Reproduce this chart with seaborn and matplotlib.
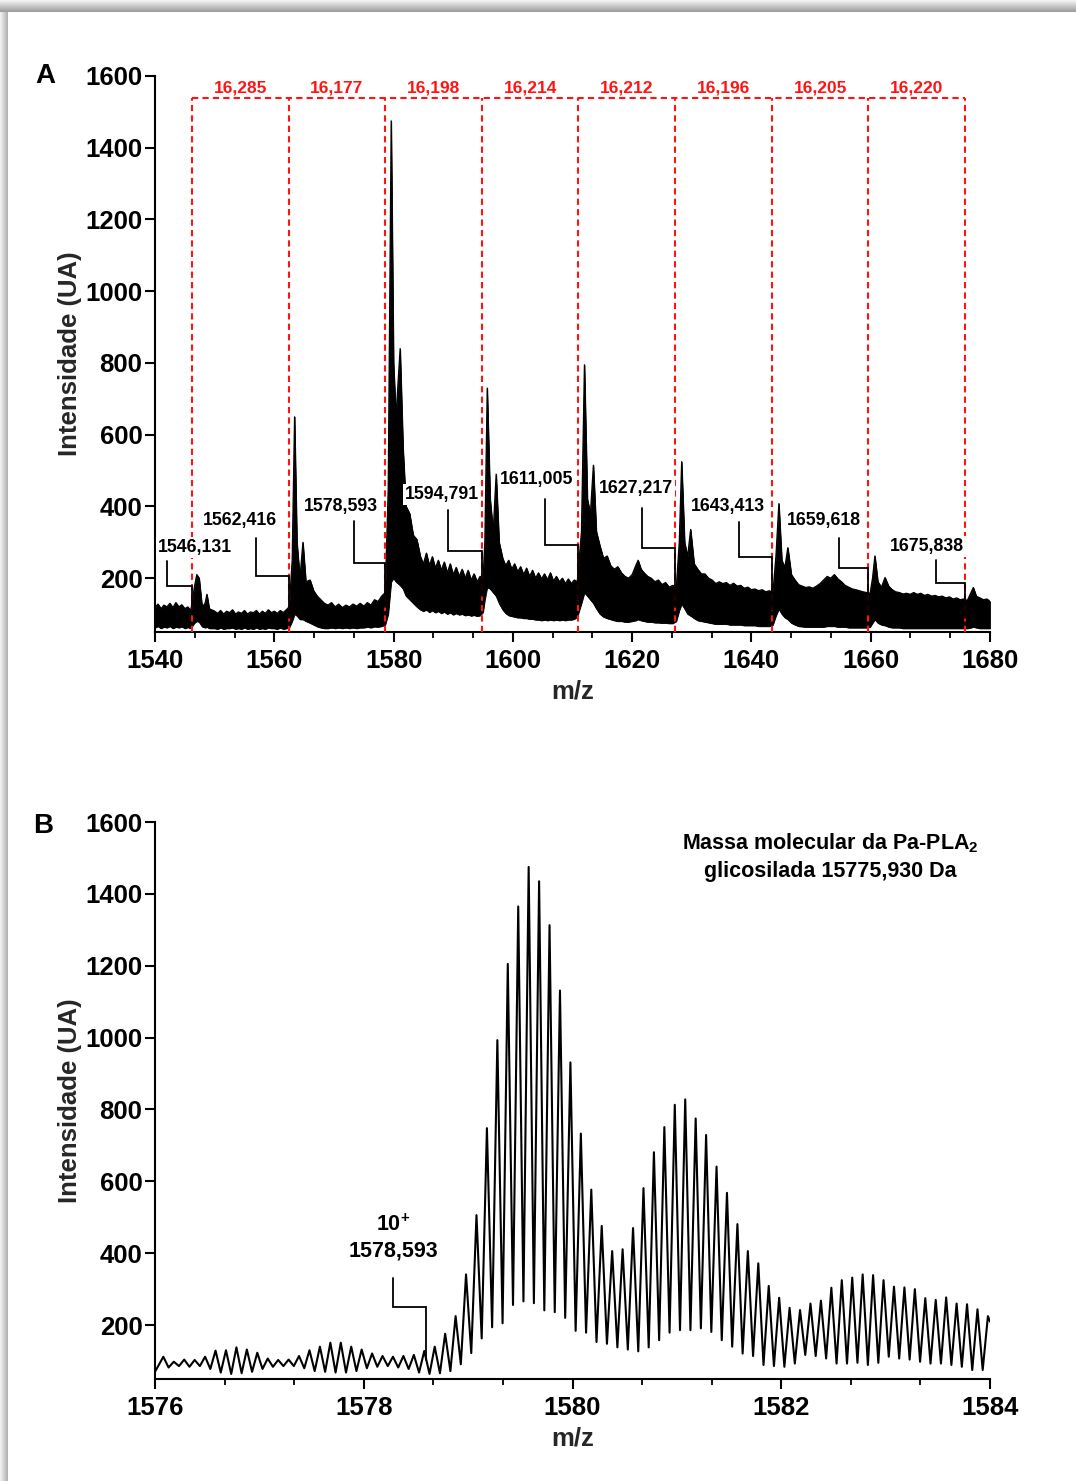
import numpy as np
import pandas as pd
import matplotlib
matplotlib.use("Agg")
import matplotlib.pyplot as plt
import seaborn as sns
from matplotlib.ticker import MultipleLocator, AutoMinorLocator
from matplotlib.patches import Rectangle

# ---------------- Panel A : full ESI spectrum (upper / lower edge of the trace) -------------
a_mz = [1540.0, 1540.5, 1541.0, 1541.5, 1542.0, 1542.5, 1543.0, 1543.5, 1544.0, 1544.5,
        1545.0, 1545.5, 1546.0, 1546.6, 1547.0, 1547.4, 1547.9, 1548.4, 1548.7, 1549.1,
        1550.0, 1550.5, 1551.0, 1551.5, 1552.0, 1552.5, 1553.0, 1553.5, 1554.0, 1554.5,
        1555.0, 1555.5, 1556.0, 1556.5, 1557.0, 1557.5, 1558.0, 1558.5, 1559.0, 1559.5,
        1560.0, 1560.5, 1561.0, 1561.5, 1562.0, 1562.5,
        1563.0, 1563.4, 1563.8, 1564.3, 1564.8, 1565.3, 1566.0, 1566.6, 1567.2, 1567.8,
        1568.4, 1569.0, 1569.6, 1570.2, 1570.8, 1571.4, 1572.0, 1572.6, 1573.2, 1573.8,
        1574.4, 1575.0, 1575.6, 1576.2, 1576.8, 1577.4, 1578.0, 1578.6,
        1579.1, 1579.6, 1580.0, 1580.4, 1581.1, 1581.6, 1582.1, 1582.7, 1583.3, 1583.9,
        1584.5, 1585.0, 1585.5, 1586.0, 1586.5, 1587.0, 1587.5, 1588.0, 1588.5, 1589.0,
        1589.5, 1590.0, 1590.5, 1591.0, 1591.5, 1592.0, 1592.5, 1593.0, 1593.5, 1594.0, 1594.5,
        1595.0, 1595.3, 1595.7, 1596.2, 1596.7, 1597.2, 1597.7, 1598.3, 1598.8, 1599.3,
        1599.8, 1600.3, 1600.8, 1601.3, 1601.8, 1602.3, 1602.8, 1603.3, 1603.8, 1604.3,
        1604.8, 1605.3, 1605.8, 1606.3, 1606.8, 1607.3, 1607.8, 1608.3, 1608.8, 1609.3,
        1609.8, 1610.3, 1610.8,
        1611.5, 1612.0, 1612.5, 1613.0, 1613.5, 1614.0, 1614.6, 1615.2, 1615.8, 1616.4,
        1617.0, 1617.6, 1618.2, 1618.8, 1619.4, 1620.0, 1620.6, 1621.0, 1621.5, 1622.0,
        1622.6, 1623.2, 1623.8, 1624.4, 1625.0, 1625.6, 1626.2, 1626.8, 1627.4,
        1627.9, 1628.3, 1628.8, 1629.3, 1629.8, 1630.4, 1631.0, 1631.6, 1632.2, 1632.8,
        1633.4, 1634.0, 1634.6, 1635.2, 1635.8, 1636.4, 1637.0, 1637.6, 1638.2, 1638.8,
        1639.4, 1640.0, 1640.6, 1641.2, 1641.8, 1642.4, 1643.0, 1643.6,
        1644.1, 1644.6, 1645.1, 1645.6, 1646.1, 1646.7, 1647.3, 1647.9, 1648.5, 1649.1,
        1649.7, 1650.3, 1650.9, 1651.5, 1652.1, 1652.7, 1653.3, 1653.9, 1654.5, 1655.1,
        1655.7, 1656.3, 1656.9, 1657.5, 1658.1, 1658.7, 1659.3, 1659.9,
        1660.3, 1660.7, 1661.2, 1661.8, 1662.4, 1663.0, 1663.6, 1664.2, 1664.8, 1665.4,
        1666.0, 1666.6, 1667.2, 1667.8, 1668.4, 1669.0, 1669.6, 1670.2, 1670.8, 1671.4,
        1672.0, 1672.6, 1673.2, 1673.8, 1674.4, 1675.0, 1675.6, 1676.2, 1676.8, 1677.2,
        1677.7, 1678.3, 1678.9, 1679.5, 1680.0]

a_upper = [118, 128, 115, 125, 120, 130, 118, 132, 120, 126,
           115, 120, 110, 175, 210, 200, 120, 130, 155, 115,
           108, 102, 110, 100, 108, 104, 112, 100, 106, 102,
           110, 100, 106, 104, 110, 100, 108, 102, 112, 104,
           108, 102, 110, 104, 112, 120,
           250, 650, 300, 200, 300, 190, 195, 165, 150, 140,
           130, 125, 132, 120, 128, 118, 125, 120, 128, 122,
           130, 122, 132, 125, 140, 135, 150, 160,
           450, 1475, 800, 650, 840, 560, 400, 380, 320, 308,
           260, 240, 270, 235, 260, 228, 250, 222, 245, 215,
           240, 210, 230, 205, 225, 200, 222, 195, 212, 190, 205,
           200, 300, 730, 420, 330, 490, 300, 255, 235, 250,
           225, 240, 218, 232, 210, 228, 205, 222, 200, 215,
           198, 212, 196, 215, 192, 205, 190, 200, 185, 198,
           185, 195, 190,
           330, 795, 420, 380, 515, 330, 290, 255, 262, 235,
           225, 232, 215, 205, 200, 210, 235, 250, 225, 215,
           205, 200, 190, 195, 182, 188, 175, 180, 175,
           300, 525, 300, 260, 336, 240, 225, 212, 212, 200,
           195, 185, 190, 185, 188, 180, 186, 178, 180, 172,
           175, 168, 170, 165, 168, 162, 165, 160,
           260, 408, 250, 230, 285, 210, 195, 182, 178, 174,
           176, 172, 178, 185, 195, 205, 200, 210, 198, 190,
           180, 175, 170, 168, 165, 162, 160, 158,
           200, 262, 190, 175, 202, 178, 168, 162, 160, 156,
           158, 155, 160, 155, 158, 152, 155, 150, 152, 148,
           150, 145, 148, 142, 145, 140, 142, 138, 160, 174,
           150, 145, 140, 142, 135]

a_lower = [62, 66, 60, 64, 62, 66, 60, 64, 62, 65,
           60, 63, 60, 75, 80, 78, 65, 62, 64, 60,
           60, 58, 62, 58, 60, 60, 62, 58, 60, 58,
           62, 58, 60, 58, 62, 58, 60, 58, 62, 60,
           60, 58, 62, 58, 60, 62,
           80, 100, 95, 85, 85, 80, 75, 70, 65, 62,
           60, 60, 62, 60, 62, 60, 62, 60, 62, 60,
           62, 62, 64, 62, 65, 64, 66, 70,
           100, 190, 200, 190, 180, 170, 150, 140, 130, 120,
           112, 108, 112, 105, 110, 104, 108, 102, 106, 100,
           104, 98, 102, 98, 100, 96, 98, 95, 97, 94, 96,
           105, 140, 175, 170, 160, 150, 130, 112, 102, 96,
           94, 92, 90, 90, 88, 88, 86, 86, 84, 84,
           82, 84, 82, 84, 82, 84, 82, 84, 82, 84,
           84, 86, 92,
           130, 160, 150, 140, 130, 115, 100, 92, 88, 85,
           82, 80, 80, 78, 78, 80, 82, 85, 82, 80,
           78, 78, 76, 76, 75, 75, 74, 74, 80,
           110, 128, 115, 100, 95, 88, 82, 80, 78, 76,
           74, 72, 72, 72, 72, 70, 70, 70, 70, 68,
           68, 68, 68, 66, 66, 66, 66, 70,
           95, 114, 100, 90, 85, 75, 70, 66, 65, 64,
           64, 64, 64, 64, 64, 66, 66, 66, 64, 64,
           64, 62, 62, 62, 62, 62, 62, 64,
           75, 85, 75, 70, 68, 64, 62, 62, 62, 60,
           60, 60, 60, 60, 60, 60, 60, 60, 60, 60,
           60, 60, 60, 60, 60, 60, 60, 60, 62, 64,
           62, 60, 60, 60, 60]

# charge-state series (m/z of the peaks) and deconvoluted masses
charge_mz = [1546.131, 1562.416, 1578.593, 1594.791, 1611.005,
             1627.217, 1643.413, 1659.618, 1675.838]
charge_text = ["1546,131", "1562,416", "1578,593", "1594,791", "1611,005",
               "1627,217", "1643,413", "1659,618", "1675,838"]
mass_text = ["16,285", "16,177", "16,198", "16,214", "16,212", "16,196", "16,205", "16,220"]

# annotation placement (data units)
lab_x = [1546.7, 1554.3, 1571.2, 1588.1, 1603.9, 1620.7, 1636.1, 1652.2, 1669.4]
lab_y = [286, 361, 400, 434, 476, 451, 400, 361, 289]
brk_x = [1542.0, 1556.9, 1573.4, 1589.1, 1605.4, 1621.7, 1637.9, 1654.7, 1670.9]
brk_top = [247, 311, 359, 389, 420, 395, 356, 311, 250]
brk_mid = [178, 206, 242, 275, 292, 284, 258, 228, 186]
brk_low = [105, 90, 120, 150, 140, 120, 110, 100, 90]
box_top = 1540
box_lab_y = 1567

# ---------------- Panel B : zoom on the 10+ ion (isotope peaks / valleys) -------------
b_peak_mz = [1576.08, 1576.18, 1576.28, 1576.38, 1576.48, 1576.58, 1576.68, 1576.78, 1576.88, 1576.98,
             1577.08, 1577.18, 1577.28, 1577.38, 1577.48, 1577.58, 1577.68, 1577.78, 1577.88, 1577.98,
             1578.08, 1578.18, 1578.28, 1578.38, 1578.48, 1578.58, 1578.68, 1578.78, 1578.88, 1578.98,
             1579.08, 1579.18, 1579.28, 1579.38, 1579.48, 1579.58, 1579.68, 1579.78, 1579.88, 1579.98,
             1580.08, 1580.18, 1580.28, 1580.38, 1580.48, 1580.58, 1580.68, 1580.78, 1580.88, 1580.98,
             1581.08, 1581.18, 1581.28, 1581.38, 1581.48, 1581.58, 1581.68, 1581.78, 1581.88, 1581.98,
             1582.08, 1582.18, 1582.28, 1582.38, 1582.48, 1582.58, 1582.68, 1582.78, 1582.88, 1582.98,
             1583.08, 1583.18, 1583.28, 1583.38, 1583.48, 1583.58, 1583.68, 1583.78, 1583.88, 1583.98]
b_peak_int = [112, 98, 104, 103, 112, 129, 130, 138, 132, 123,
              107, 103, 104, 114, 130, 140, 151, 151, 140, 132,
              121, 114, 112, 114, 117, 128, 140, 176, 225, 341,
              506, 748, 993, 1205, 1365, 1475, 1435, 1313, 1131, 931,
              733, 577, 476, 406, 411, 470, 581, 681, 751, 813,
              828, 775, 729, 641, 568, 481, 406, 372, 309, 276,
              248, 242, 260, 268, 304, 325, 332, 341, 339, 325,
              307, 305, 300, 275, 270, 277, 260, 258, 244, 225]
b_valley_mz = [1576.13, 1576.23, 1576.33, 1576.43, 1576.53, 1576.63, 1576.73, 1576.83, 1576.93,
               1577.03, 1577.13, 1577.23, 1577.33, 1577.43, 1577.53, 1577.63, 1577.73, 1577.83, 1577.93,
               1578.03, 1578.13, 1578.23, 1578.33, 1578.43, 1578.53, 1578.63, 1578.73, 1578.83, 1578.93,
               1579.03, 1579.13, 1579.23, 1579.33, 1579.43, 1579.53, 1579.63, 1579.73, 1579.83, 1579.93,
               1580.03, 1580.13, 1580.23, 1580.33, 1580.43, 1580.53, 1580.63, 1580.73, 1580.83, 1580.93,
               1581.03, 1581.13, 1581.23, 1581.33, 1581.43, 1581.53, 1581.63, 1581.73, 1581.83, 1581.93,
               1582.03, 1582.13, 1582.23, 1582.33, 1582.43, 1582.53, 1582.63, 1582.73, 1582.83, 1582.93,
               1583.03, 1583.13, 1583.23, 1583.33, 1583.43, 1583.53, 1583.63, 1583.73, 1583.83, 1583.93]
b_valley_int = [82, 86, 84, 86, 78, 68, 64, 66, 70,
                78, 84, 86, 86, 80, 72, 70, 68, 68, 72,
                80, 84, 86, 82, 78, 68, 64, 66, 72, 91,
                122, 163, 194, 205, 256, 266, 261, 241, 236, 220,
                184, 179, 153, 148, 138, 132, 127, 138, 158, 179,
                186, 186, 191, 181, 158, 140, 121, 114, 89, 86,
                84, 93, 117, 114, 107, 93, 93, 95, 89, 95,
                112, 107, 104, 98, 93, 93, 89, 84, 75, 75]
b_edge_mz = [1576.0, 1584.0]
b_edge_int = [70, 210]

# ---------------- style ----------------
sns.set_theme(style="ticks")
plt.rcParams.update({
    "font.family": ["Liberation Sans", "DejaVu Sans"],
    "font.weight": "bold",
    "axes.labelweight": "bold",
    "mathtext.fontset": "custom",
    "mathtext.rm": "Liberation Sans:bold",
    "mathtext.bf": "Liberation Sans:bold",
    "mathtext.it": "Liberation Sans:bold",
    "axes.linewidth": 1.5,
    "axes.edgecolor": "black",
    "xtick.color": "black",
    "ytick.color": "black",
    "text.color": "black",
})

W, H = 1076, 1481
fig = plt.figure(figsize=(W / 100, H / 100), dpi=100)
fig.patch.set_facecolor("white")

# card shadow along top and left edges
for i in range(12):
    g = 0.62 + 0.03 * i
    fig.add_artist(Rectangle((0, 1 - (12 - i) / H), 1, 1 / H, transform=fig.transFigure,
                             facecolor=(g, g, g), edgecolor="none", zorder=-5))
for i in range(8):
    g = 0.70 + 0.035 * i
    fig.add_artist(Rectangle(((7 - i) / W, 0), 1 / W, 1 - 12 / H, transform=fig.transFigure,
                             facecolor=(g, g, g), edgecolor="none", zorder=-5))

axA = fig.add_axes([155 / W, 1 - 632 / H, 835 / W, 556 / H])
axB = fig.add_axes([155 / W, 1 - 1379 / H, 835 / W, 557 / H])

tick_fs = 18.5
lab_fs = 18.5


def style_axis(ax, xmaj):
    ax.set_ylim(50, 1600)
    ax.yaxis.set_major_locator(MultipleLocator(200))
    ax.xaxis.set_major_locator(MultipleLocator(xmaj))
    ax.xaxis.set_minor_locator(AutoMinorLocator(3))
    ax.tick_params(axis="both", which="major", direction="out", length=7, width=1.5,
                   labelsize=tick_fs)
    ax.tick_params(axis="x", which="minor", direction="out", length=4, width=1.3)
    ax.tick_params(axis="y", which="major", pad=2)
    ax.tick_params(axis="x", which="major", pad=5)
    for lbl in ax.get_xticklabels() + ax.get_yticklabels():
        lbl.set_fontweight("bold")
    sns.despine(ax=ax)
    ax.set_xlabel("m/z", fontsize=lab_fs, fontweight="bold")
    ax.set_ylabel("Intensidade (UA)", fontsize=lab_fs, fontweight="bold")
    ax.xaxis.set_label_coords(0.5, -0.085)
    ax.yaxis.set_label_coords(-0.088, 0.5)
    ax.set_facecolor("white")


# ---------------- Panel A ----------------
dfA = pd.DataFrame({"mz": a_mz, "upper": a_upper, "lower": a_lower})
axA.fill_between(dfA["mz"], dfA["lower"], dfA["upper"], color="black", lw=0.6, zorder=2)
sns.lineplot(data=dfA, x="mz", y="upper", ax=axA, color="black", lw=0.9,
             estimator=None, zorder=3)
sns.lineplot(data=dfA, x="mz", y="lower", ax=axA, color="black", lw=0.6,
             estimator=None, zorder=3)
axA.set_xlim(1540, 1680)
style_axis(axA, 20)

red = "#ff1414"
dash = (0, (3, 2))
axA.vlines(charge_mz, 50, box_top, colors=red, linestyles=dash, lw=1.5, zorder=4)
axA.hlines(box_top, charge_mz[0], charge_mz[-1], colors=red, linestyles=dash, lw=1.5, zorder=4)
for i, t in enumerate(mass_text):
    xm = (charge_mz[i] + charge_mz[i + 1]) / 2
    axA.text(xm, box_lab_y, t, color=red, fontsize=12.5, fontweight="bold",
             ha="center", va="center", zorder=6)

for i in range(len(charge_mz)):
    axA.plot([brk_x[i], brk_x[i], charge_mz[i], charge_mz[i]],
             [brk_top[i], brk_mid[i], brk_mid[i], brk_low[i]],
             color="black", lw=1.3, zorder=5, solid_joinstyle="miter")
    axA.text(lab_x[i], lab_y[i], charge_text[i], fontsize=12.8, fontweight="bold",
             ha="center", va="center", zorder=6,
             bbox=dict(boxstyle="square,pad=0.1", facecolor="white", edgecolor="none"))

# ---------------- Panel B ----------------
dfB = pd.concat([
    pd.DataFrame({"mz": b_peak_mz, "intensity": b_peak_int}),
    pd.DataFrame({"mz": b_valley_mz, "intensity": b_valley_int}),
    pd.DataFrame({"mz": b_edge_mz, "intensity": b_edge_int}),
]).sort_values("mz").reset_index(drop=True)
sns.lineplot(data=dfB, x="mz", y="intensity", ax=axB, color="black", lw=1.5,
             estimator=None, sort=True)
axB.set_xlim(1576, 1584)
style_axis(axB, 2)

axB.text(1578.28, 478, r"10$^{+}$", fontsize=15.5, fontweight="bold", ha="center", va="center")
axB.text(1578.28, 405, "1578,593", fontsize=15.5, fontweight="bold", ha="center", va="center")
axB.plot([1578.28, 1578.28, charge_mz[2], charge_mz[2]], [331, 250, 250, 103],
         color="black", lw=1.3, solid_joinstyle="miter")
axB.text(1582.47, 1542, r"Massa molecular da Pa-PLA$_{2}$", fontsize=15.5,
         fontweight="bold", ha="center", va="center")
axB.text(1582.47, 1461, "glicosilada 15775,930 Da", fontsize=15.5,
         fontweight="bold", ha="center", va="center")

# panel letters
fig.text(45 / W, 1 - 76 / H, "A", fontsize=20, fontweight="bold", ha="center", va="center")
fig.text(43 / W, 1 - 826 / H, "B", fontsize=20, fontweight="bold", ha="center", va="center")

fig.savefig("out.png", dpi=100, facecolor="white")
